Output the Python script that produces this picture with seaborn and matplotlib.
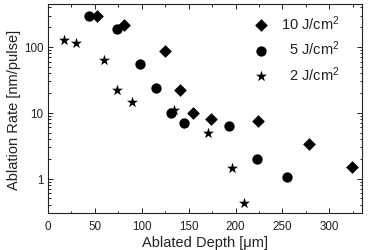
import pandas as pd
import matplotlib
matplotlib.use("Agg")
import matplotlib.pyplot as plt
import matplotlib.ticker as mticker
import seaborn as sns

# Data
depth_10 = [52, 81, 125, 141, 155, 174, 224, 278, 324]
rate_10 = [292, 216, 86, 22, 10.0, 8.1, 7.6, 3.4, 1.5]

depth_5 = [44, 74, 98, 115, 131, 145, 193, 223, 255]
rate_5 = [292, 187, 55, 24, 10.1, 7.1, 6.2, 2.0, 1.05]

depth_2 = [17, 30, 60, 74, 90, 134, 171, 196, 209]
rate_2 = [127, 114, 64, 22, 14.5, 10.9, 4.9, 1.45, 0.43]

labels = ["10 J/cm$^2$", "  5 J/cm$^2$", "  2 J/cm$^2$"]

sns.set_style("ticks")
plt.rcParams["font.family"] = ["Liberation Sans", "DejaVu Sans"]
plt.rcParams["mathtext.default"] = "regular"

df = pd.concat([
    pd.DataFrame({"depth": depth_10, "rate": rate_10, "fluence": labels[0]}),
    pd.DataFrame({"depth": depth_5, "rate": rate_5, "fluence": labels[1]}),
    pd.DataFrame({"depth": depth_2, "rate": rate_2, "fluence": labels[2]}),
])

fig = plt.figure(figsize=(3.68, 2.51), dpi=100)
ax = fig.add_axes([0.1296, 0.147, 0.855, 0.832])

markers = {labels[0]: "D", labels[1]: "o", labels[2]: "*"}
sizes = {labels[0]: 42, labels[1]: 55, labels[2]: 70}
for lab in labels:
    sub = df[df["fluence"] == lab]
    sns.scatterplot(data=sub, x="depth", y="rate", marker=markers[lab], s=sizes[lab],
                    color="black", edgecolor="black", linewidth=0, ax=ax, label=lab)

ax.set_yscale("log")
ax.set_xlim(0, 335)
ax.set_ylim(0.3, 445)
ax.xaxis.set_major_locator(mticker.MultipleLocator(50))
ax.xaxis.set_minor_locator(mticker.MultipleLocator(25))
ax.yaxis.set_major_formatter(mticker.FuncFormatter(lambda v, p: f"{v:g}"))
ax.yaxis.set_minor_formatter(mticker.NullFormatter())

ax.tick_params(which="both", direction="in", top=True, right=True, colors="#222222",
               labelsize=8.4, width=0.7)
ax.tick_params(which="major", length=3.4)
ax.tick_params(axis="x", which="major", pad=5)
ax.tick_params(axis="y", which="major", pad=3)
ax.tick_params(which="minor", length=1.8)
for sp in ax.spines.values():
    sp.set_linewidth(0.8)
    sp.set_color("#222222")

ax.set_xlabel("Ablated Depth [\u03bcm]", fontsize=10.5, color="#222222", labelpad=2)
ax.set_ylabel("Ablation Rate [nm/pulse]", fontsize=10.5, color="#222222", labelpad=2)

leg = ax.legend(loc="upper right", bbox_to_anchor=(0.975, 1.025), frameon=False,
                fontsize=10.5, handletextpad=0.4, labelspacing=0.45,
                borderaxespad=0.6, markerscale=1.0)
for t in leg.get_texts():
    t.set_color("#222222")

fig.savefig("out.png", dpi=100)
